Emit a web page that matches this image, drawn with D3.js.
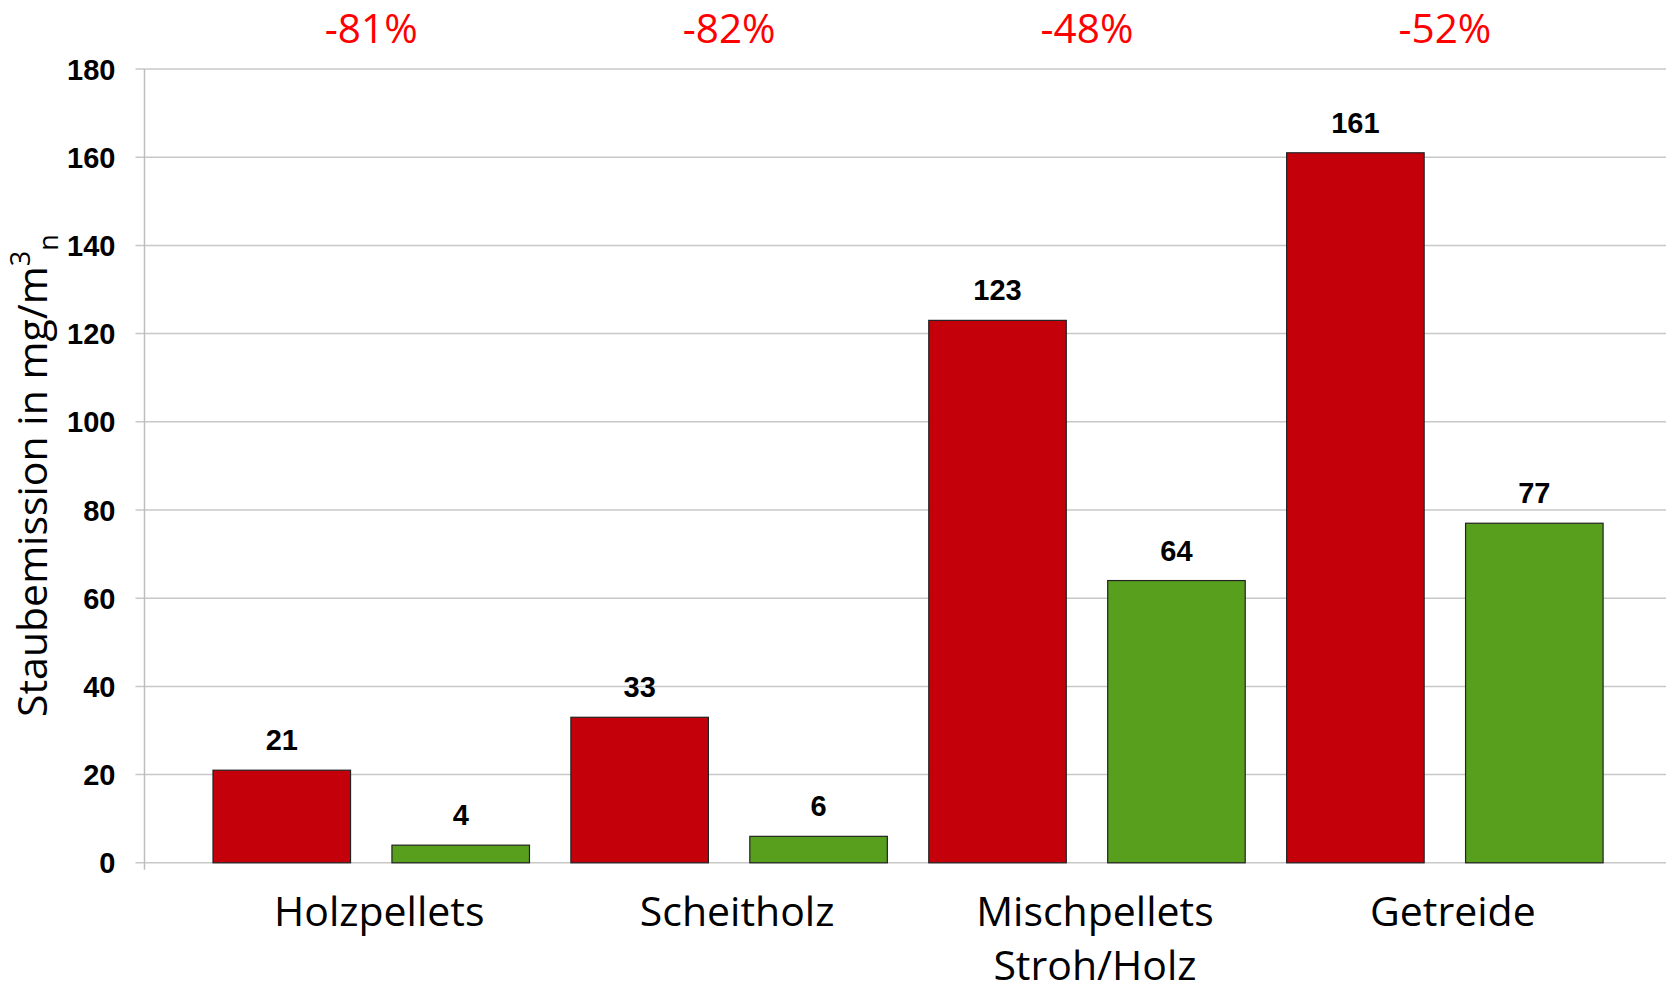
<!DOCTYPE html>
<html>
<head>
<meta charset="utf-8">
<script src="https://cdn.jsdelivr.net/npm/d3@7/dist/d3.min.js"></script>
<style>
  html, body { margin: 0; padding: 0; background: #fff; }
  svg { display: block; }
</style>
</head>
<body>
<svg id="chart" width="1666" height="993"></svg>
<script>
// ---- data ----
const categories = ["Holzpellets", "Scheitholz", "Mischpellets\nStroh/Holz", "Getreide"];
const seriesNames = ["vorher", "nachher"];
const valuesBefore = [21, 33, 123, 161];
const valuesAfter = [4, 6, 64, 77];
const reductionLabels = ["-81%", "-82%", "-48%", "-52%"];
const yTickValues = [0, 20, 40, 60, 80, 100, 120, 140, 160, 180];

// ---- layout ----
const W = 1666, H = 993;
const axisX = 144.5;
const y0 = 862.8, yTop = 69;
const svg = d3.select("#chart");

const rows = categories.map((c, i) => ({ cat: c, vals: [valuesBefore[i], valuesAfter[i]], red: reductionLabels[i] }));

const x = d3.scaleBand().domain(categories).range([192.3, 1623.8]).paddingInner(0).paddingOuter(0);
const xi = d3.scaleBand().domain(seriesNames).range([0, x.bandwidth()]).paddingInner(0.2314).paddingOuter(0.1157);
const y = d3.scaleLinear().domain([0, 180]).range([y0, yTop]);
const colors = { vorher: "#C4000B", nachher: "#589F1E" };

// gridlines
const yAxis = d3.axisLeft(y).tickValues(yTickValues).tickSize(0).tickPadding(0).tickFormat(d3.format("d"));
const gGrid = svg.append("g");
gGrid.selectAll("line").data(yTickValues).join("line")
  .attr("x1", axisX - 9).attr("x2", W)
  .attr("y1", d => y(d)).attr("y2", d => y(d))
  .attr("stroke", "#C8C8C8").attr("stroke-width", 1.5);

// y axis line
svg.append("line").attr("x1", axisX).attr("x2", axisX).attr("y1", yTop).attr("y2", y0 + 7)
  .attr("stroke", "#BEBEBE").attr("stroke-width", 1.5);

// y axis labels
const gy = svg.append("g").attr("transform", `translate(${axisX - 29},0)`).call(yAxis);
gy.select(".domain").remove();
gy.selectAll("text")
  .attr("font-family", "'Liberation Sans', Arial, sans-serif")
  .attr("font-weight", "bold").attr("font-size", 29).attr("fill", "#000")
  .attr("dy", "0.35em");

// bars
const groups = svg.append("g").selectAll("g").data(rows).join("g")
  .attr("transform", d => `translate(${x(d.cat)},0)`);
groups.selectAll("rect").data(d => d.vals.map((v, j) => ({ s: seriesNames[j], v }))).join("rect")
  .attr("x", d => xi(d.s)).attr("width", xi.bandwidth())
  .attr("y", d => y(d.v)).attr("height", d => y(0) - y(d.v))
  .attr("fill", d => colors[d.s]).attr("stroke", "#222").attr("stroke-width", 1.2);
groups.selectAll("text.val").data(d => d.vals.map((v, j) => ({ s: seriesNames[j], v }))).join("text")
  .attr("class", "val")
  .attr("x", d => xi(d.s) + xi.bandwidth() / 2)
  .attr("y", d => y(d.v) - 20)
  .attr("text-anchor", "middle")
  .attr("font-family", "'Liberation Sans', Arial, sans-serif")
  .attr("font-weight", "bold").attr("font-size", 29).attr("fill", "#000")
  .text(d => d.v);

// reduction labels
svg.append("g").selectAll("text").data(rows).join("text")
  .attr("x", d => x(d.cat) + x.bandwidth() / 2)
  .attr("y", 43)
  .attr("text-anchor", "middle")
  .attr("font-family", "'Open Sans', sans-serif")
  .attr("font-size", 40.5).attr("fill", "#FF0000")
  .text(d => d.red);

// category labels
const catG = svg.append("g").selectAll("text").data(rows).join("text")
  .attr("x", d => x(d.cat) + x.bandwidth() / 2 + 8)
  .attr("y", 926)
  .attr("text-anchor", "middle")
  .attr("font-family", "'Open Sans', sans-serif")
  .attr("font-size", 41).attr("fill", "#000");
catG.each(function(d) {
  const lines = d.cat.split("\n");
  d3.select(this).selectAll("tspan").data(lines).join("tspan")
    .attr("x", x(d.cat) + x.bandwidth() / 2 + 8)
    .attr("dy", (l, i) => i === 0 ? 0 : 54)
    .text(l => l);
});

// y axis title
const title = svg.append("text")
  .attr("transform", `translate(47, 717) rotate(-90)`)
  .attr("font-family", "'Open Sans', sans-serif")
  .attr("font-size", 41).attr("fill", "#000");
title.append("tspan").text("Staubemission in mg/m");
title.append("tspan").attr("font-size", 27).attr("dy", -17).text("3");
title.append("tspan").attr("font-size", 27).attr("dy", 28).text("n");
</script>
</body>
</html>
